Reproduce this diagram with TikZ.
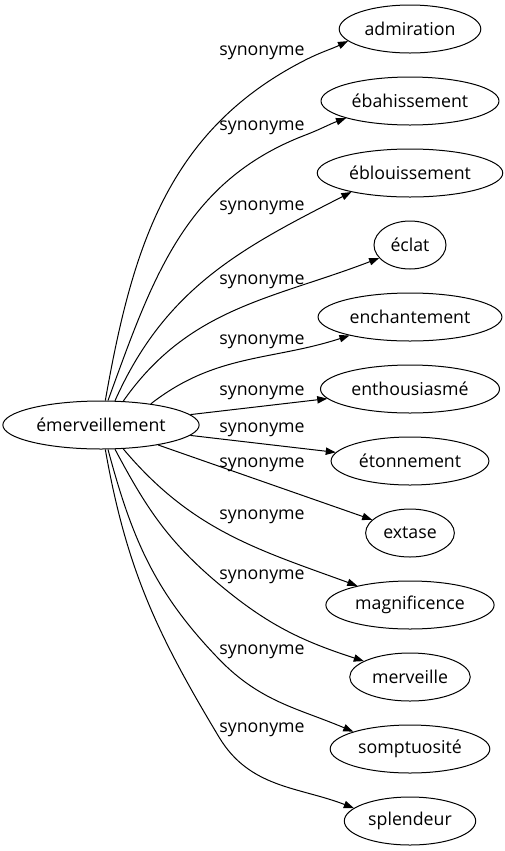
\documentclass[tikz,border=0pt]{standalone}
\usepackage{fontspec}
\setmainfont{Open Sans}
\usetikzlibrary{shapes.geometric,arrows.meta}

\tikzset{
  word/.style={draw, ellipse, line width=0.75pt, inner xsep=3.5pt,
    minimum height=36pt, minimum width=54pt},
  synlabel/.style={inner sep=0pt},
  syn/.style={line width=0.75pt, -{Triangle[length=7.5pt,width=5.5pt]}}
}

\begin{document}
\begin{tikzpicture}[x=0.75pt, y=0.75pt, font=\fontsize{13.3}{16}\selectfont]
        \useasboundingbox (0, 0) rectangle (505, -851);

        \node (em) at (101, -425) [word] {émerveillement};

        \node (admiration)    at (410,  -29) [word] {admiration};
        \node (ebahissement)  at (410, -101) [word] {ébahissement};
        \node (eblouissement) at (410, -173) [word] {éblouissement};
        \node (eclat)         at (410, -245) [word] {éclat};
        \node (enchantement)  at (410, -317) [word] {enchantement};
        \node (enthousiasme)  at (410, -389) [word] {enthousiasmé};
        \node (etonnement)    at (410, -461) [word] {étonnement};
        \node (extase)        at (410, -533) [word] {extase};
        \node (magnificence)  at (410, -605) [word] {magnificence};
        \node (merveille)     at (410, -677) [word] {merveille};
        \node (somptuosite)   at (410, -749) [word] {somptuosité};
        \node (splendeur)     at (410, -821) [word] {splendeur};

        % edge labels
        \node (s1)  at (262,  -53) [synlabel] {synonyme};
        \node (s2)  at (262, -128) [synlabel] {synonyme};
        \node (s3)  at (262, -208) [synlabel] {synonyme};
        \node (s4)  at (262, -282) [synlabel] {synonyme};
        \node (s5)  at (262, -342) [synlabel] {synonyme};
        \node (s6)  at (262, -393) [synlabel] {synonyme};
        \node (s7)  at (262, -430) [synlabel] {synonyme};
        \node (s8)  at (262, -465) [synlabel] {synonyme};
        \node (s9)  at (262, -517) [synlabel] {synonyme};
        \node (s10) at (262, -577) [synlabel] {synonyme};
        \node (s11) at (262, -652) [synlabel] {synonyme};
        \node (s12) at (262, -730) [synlabel] {synonyme};

        \draw [syn] (em.80) to[out=80, in=207] (s1.south east)
                            to[out=27, in=206] (admiration.191);
        \draw [syn] (em.74) to[out=70, in=201] (s2.south east)
                            to[out=21, in=200] (ebahissement.195);
        \draw [syn] (em.60) to[out=66, in=207] (eblouissement.198);
        \draw [syn] (em.47) to[out=55, in=201] (eclat.203);
        \draw [syn] (em.23) to[out=38, in=198] (enchantement.197);
        \draw [syn] (em) -- (enthousiasme);
        \draw [syn] (em) -- (etonnement);
        \draw [syn] (em) -- (extase);
        \draw [syn] (em.-47) to[out=-50, in=160] (magnificence.160);
        \draw [syn] (em.-60) to[out=-62, in=140] (s10.south west)
                             to[out=-40, in=162] (merveille.161);
        \draw [syn] (em.-74) to[out=-75, in=134] (s11.south west)
                             to[out=-46, in=157] (somptuosite.163);
        \draw [syn] (em.-80) to[out=-80, in=121] (s12.south west)
                             to[out=-59, in=159] (splendeur.167);
      \end{tikzpicture}
\end{document}
